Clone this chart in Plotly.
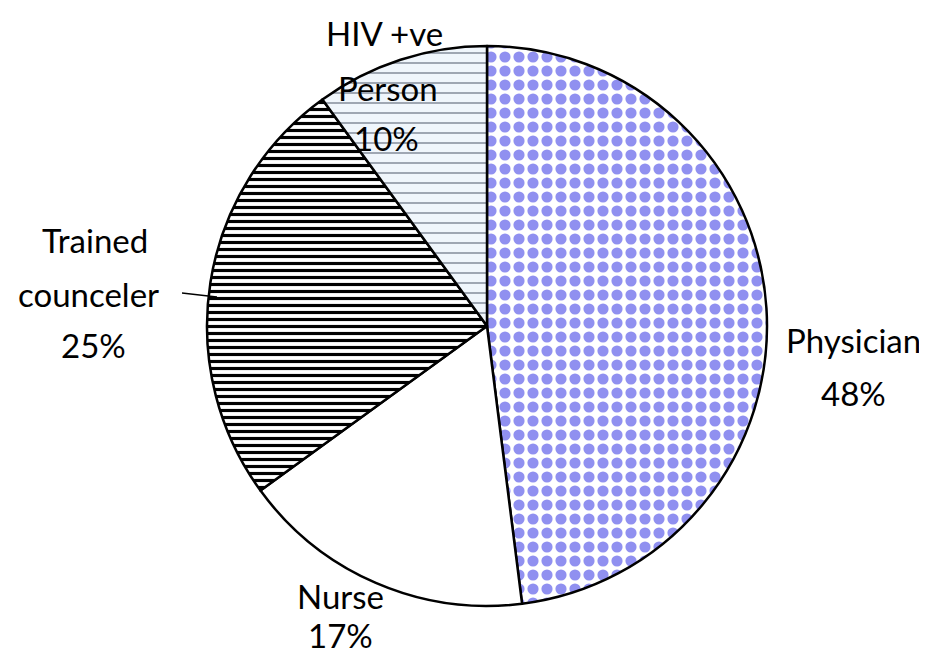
import plotly.graph_objects as go

# Data
labels = ["Physician", "Nurse", "Trained counceler", "HIV +ve Person"]
values = [48, 17, 25, 10]
label_lines = [["Physician"], ["Nurse"], ["Trained", "counceler"], ["HIV +ve", "Person"]]

bg_colors = ["#ffffff", "#ffffff", "#ffffff", "#f0f6fc"]
fg_colors = ["#9090f0", "#ffffff", "#000000", "#7c8594"]
shapes = [".", "", "-", "-"]
sizes = [14, 8, 7, 10]
solidity = [0.5, 0.3, 0.45, 0.14]

W, H = 927, 656
cx, cy, r = 479, 318, 280   # domain centre (plotly offsets slightly)

fig = go.Figure(go.Pie(
    labels=labels,
    values=values,
    sort=False,
    direction="clockwise",
    rotation=0,
    textinfo="none",
    hoverinfo="label+percent",
    marker=dict(
        colors=bg_colors,
        line=dict(color="black", width=2.5),
        pattern=dict(shape=shapes, fgcolor=fg_colors, bgcolor=bg_colors,
                     size=sizes, solidity=solidity, fillmode="replace"),
    ),
    domain=dict(x=[(cx - r) / W, (cx + r) / W], y=[1 - (cy + r) / H, 1 - (cy - r) / H]),
    showlegend=False,
))

# label placement (pixel centres of each text line)
label_pos = {
    "Physician": [(845, 332), (845, 385)],
    "Nurse": [(332, 588), (332, 627)],
    "Trained counceler": [(87, 232), (80, 286), (85, 337)],
    "HIV +ve Person": [(376, 25), (380, 80), (378, 130)],
}

font = dict(family="Lato, Liberation Sans, sans-serif", size=33, color="black")
for lab, lines, v in zip(labels, label_lines, values):
    texts = lines + [f"{v}%"]
    for t, (px_, py_) in zip(texts, label_pos[lab]):
        fig.add_annotation(x=px_ / W, y=1 - py_ / H, xref="paper", yref="paper",
                           text=t, showarrow=False, font=font, borderpad=0,
                           xanchor="center", yanchor="middle")

# leader line for Trained counceler
fig.add_shape(type="line", xref="paper", yref="paper",
              x0=174 / W, y0=1 - 285 / H, x1=209 / W, y1=1 - 289 / H,
              line=dict(color="black", width=1.5))

fig.update_layout(
    width=W, height=H,
    margin=dict(l=0, r=0, t=0, b=0),
    paper_bgcolor="white",
    plot_bgcolor="white",
)

fig.write_html("out.html")
